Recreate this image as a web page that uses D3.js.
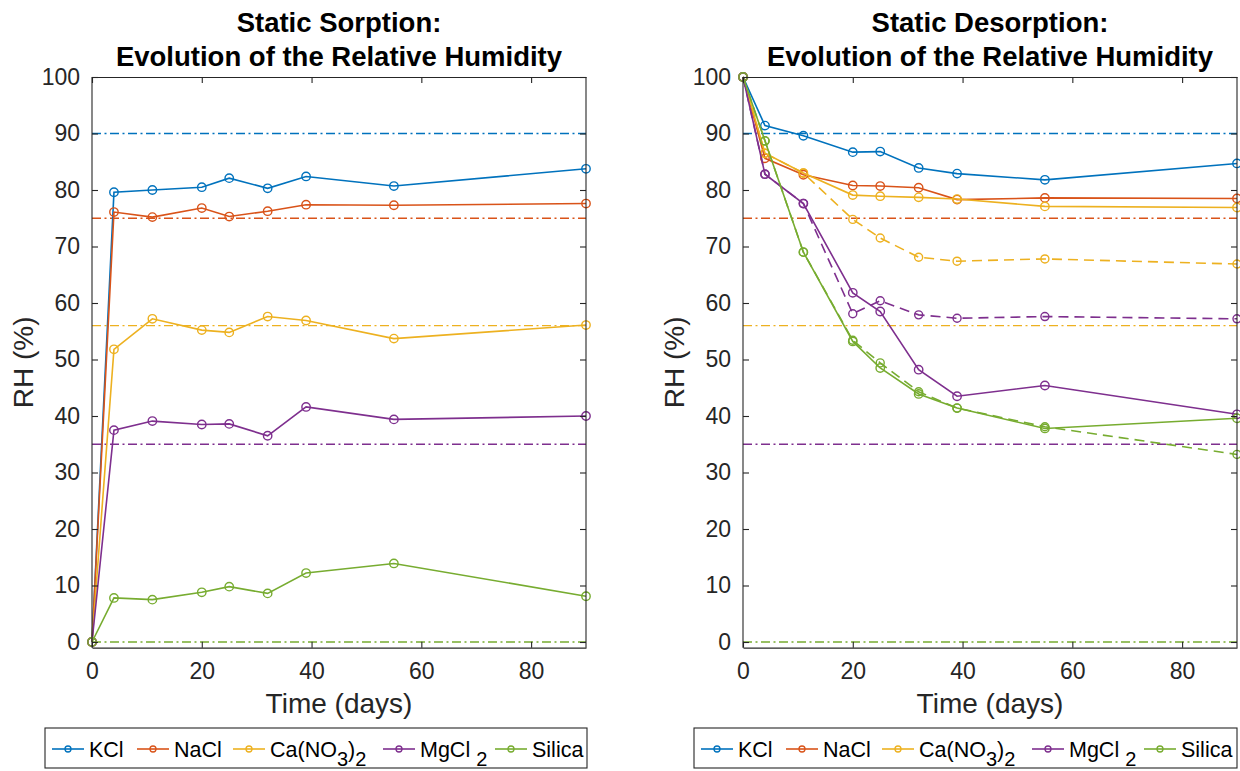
<!DOCTYPE html>
<html><head><meta charset="utf-8">
<script src="https://cdn.jsdelivr.net/npm/d3@7"></script>
<style>body{margin:0;background:#fff}svg{display:block;font-family:"Liberation Sans",Arial,Helvetica,sans-serif}</style>
</head><body>
<svg id="c" width="1240" height="771"></svg>
<script>
const times = [0, 4, 11, 20, 25, 32, 39, 55, 90];
const seriesNames = ["KCl", "NaCl", "Ca(NO3)2", "MgCl2", "Silica"];
const colors = ["#0072BD", "#D95319", "#EDB120", "#7E2F8E", "#77AC30"];
const targetRH = [90, 75, 56, 35, 0];

// Static sorption
const kclSorp  = [0, 79.6, 80.0, 80.5, 82.1, 80.3, 82.4, 80.7, 83.75];
const naclSorp = [0, 76.1, 75.2, 76.8, 75.3, 76.25, 77.4, 77.3, 77.6];
const caSorp   = [0, 51.8, 57.2, 55.2, 54.8, 57.6, 56.9, 53.7, 56.1];
const mgSorp   = [0, 37.5, 39.1, 38.5, 38.6, 36.5, 41.6, 39.4, 40.0];
const siSorp   = [0, 7.8, 7.5, 8.8, 9.8, 8.6, 12.2, 13.9, 8.1];

// Static desorption (solid lines)
const kclDes  = [100, 91.4, 89.6, 86.7, 86.8, 83.9, 82.9, 81.8, 84.7];
const naclDes = [100, 85.6, 82.7, 80.8, 80.7, 80.4, 78.3, 78.6, 78.5];
const caDes   = [100, 86.5, 83.0, 79.1, 78.9, 78.7, 78.4, 77.1, 76.9];
const mgDes   = [100, 82.8, 77.6, 61.8, 58.5, 48.2, 43.5, 45.4, 40.3];
const siDes   = [100, 88.7, 69.0, 53.2, 48.5, 43.9, 41.4, 37.8, 39.6];
// Static desorption (dashed lines)
const caDes2  = [100, 86.5, 83.0, 74.8, 71.5, 68.1, 67.4, 67.8, 66.9];
const mgDes2  = [100, 82.8, 77.6, 58.1, 60.4, 57.9, 57.3, 57.6, 57.2];
const siDes2  = [100, 88.7, 69.0, 53.4, 49.4, 44.3, 41.4, 38.1, 33.2];

const xTicks = [0, 20, 40, 60, 80];
const yTicks = [0, 10, 20, 30, 40, 50, 60, 70, 80, 90, 100];

const svg = d3.select("#c");
const axisColor = "#262626";
const legendOffsets = [7, 92, 188, 338, 450];

function panel(opts) {
  const {x0, x1, yTop, y0px, title, solid, dashed, legendX0, legendX1} = opts;
  const x = d3.scaleLinear().domain([0, 90]).range([x0, x1]);
  const y = d3.scaleLinear().domain([0, 100]).range([y0px, yTop]);
  const yBottom = y(-1);
  const g = svg.append("g");

  targetRH.forEach((v, i) => {
    g.append("line").attr("x1", x(0)).attr("x2", x(90)).attr("y1", y(v)).attr("y2", y(v))
      .attr("stroke", colors[i]).attr("stroke-width", 1.4).attr("stroke-dasharray", "9,3.5,2,3.5");
  });

  const line = d3.line().x((d, i) => x(times[i])).y(d => y(d));
  function drawSeries(vals, color, dash, r) {
    g.append("path").datum(vals).attr("d", line).attr("fill", "none")
      .attr("stroke", color).attr("stroke-width", 1.6)
      .attr("stroke-dasharray", dash ? "10,6" : null);
    g.selectAll(null).data(vals).enter().append("circle")
      .attr("cx", (d, i) => x(times[i])).attr("cy", d => y(d)).attr("r", r)
      .attr("fill", "none").attr("stroke", color).attr("stroke-width", 1.4);
  }
  dashed.forEach(s => drawSeries(s.v, colors[s.c], true, 4));
  solid.forEach((s, i) => drawSeries(s, colors[i], false, 4.2));

  const ax = svg.append("g");
  const bottom = d3.axisBottom(x).tickValues(xTicks).tickSizeInner(-6).tickSizeOuter(0).tickPadding(15);
  const top = d3.axisTop(x).tickValues(xTicks).tickSizeInner(-6).tickSizeOuter(0).tickFormat("");
  const left = d3.axisLeft(y).tickValues(yTicks).tickSizeInner(-6).tickSizeOuter(0).tickPadding(12);
  const right = d3.axisRight(y).tickValues(yTicks).tickSizeInner(-6).tickSizeOuter(0).tickFormat("");
  [[bottom, `translate(0,${yBottom})`], [top, `translate(0,${yTop})`], [left, `translate(${x0},0)`], [right, `translate(${x1},0)`]]
    .forEach(([a, t], k) => {
      const gg = ax.append("g").attr("transform", t).call(a);
      gg.select(".domain").attr("stroke", axisColor).attr("stroke-width", 1.1);
      if (k >= 2) gg.select(".domain").attr("d", `M0,${yTop}V${yBottom}`);
      gg.selectAll(".tick line").attr("stroke", axisColor).attr("stroke-width", 1.1);
      gg.selectAll(".tick text").attr("fill", axisColor).attr("font-size", 23)
        .attr("font-family", "'Liberation Sans', Arial, sans-serif");
    });

  svg.append("text").attr("x", (x0 + x1) / 2).attr("y", 713).attr("text-anchor", "middle")
    .attr("font-size", 28).attr("fill", axisColor).text("Time (days)");
  svg.append("text").attr("transform", `translate(${x0 - 59},${(yTop + yBottom) / 2}) rotate(-90)`)
    .attr("text-anchor", "middle").attr("font-size", 28).attr("fill", axisColor).text("RH (%)");
  const tg = svg.append("text").attr("text-anchor", "middle").attr("font-size", 27.5)
    .attr("font-weight", "bold").attr("fill", "#000");
  tg.append("tspan").attr("x", (x0 + x1) / 2).attr("y", 32).text(title[0]);
  tg.append("tspan").attr("x", (x0 + x1) / 2).attr("y", 66).text(title[1]);

  const lg = svg.append("g");
  lg.append("rect").attr("x", legendX0).attr("y", 728).attr("width", legendX1 - legendX0).attr("height", 40)
    .attr("fill", "#fff").attr("stroke", axisColor).attr("stroke-width", 1.1);
  const ly = 749;
  seriesNames.forEach((n, i) => {
    const cx = legendX0 + legendOffsets[i];
    lg.append("line").attr("x1", cx).attr("x2", cx + 32).attr("y1", ly).attr("y2", ly)
      .attr("stroke", colors[i]).attr("stroke-width", 1.6);
    lg.append("circle").attr("cx", cx + 16).attr("cy", ly).attr("r", 3)
      .attr("fill", "none").attr("stroke", colors[i]).attr("stroke-width", 1.3);
    const t = lg.append("text").attr("x", cx + 37).attr("y", ly + 8).attr("font-size", 21.5).attr("fill", "#000");
    if (n === "Ca(NO3)2") {
      t.append("tspan").text("Ca(NO");
      t.append("tspan").attr("dy", 9).attr("font-size", 20).text("3");
      t.append("tspan").attr("dy", -9).text(")");
      t.append("tspan").attr("dy", 9).attr("font-size", 20).text("2");
    } else if (n === "MgCl2") {
      t.append("tspan").text("MgCl");
      t.append("tspan").attr("dx", 6).attr("dy", 9).attr("font-size", 20).text("2");
    } else t.text(n);
  });
}

panel({x0: 92, x1: 586, yTop: 77, y0px: 642,
  title: ["Static Sorption:", "Evolution of the Relative Humidity"],
  solid: [kclSorp, naclSorp, caSorp, mgSorp, siSorp], dashed: [],
  legendX0: 45, legendX1: 587});
panel({x0: 743, x1: 1237, yTop: 77, y0px: 642,
  title: ["Static Desorption:", "Evolution of the Relative Humidity"],
  solid: [kclDes, naclDes, caDes, mgDes, siDes],
  dashed: [{v: caDes2, c: 2}, {v: mgDes2, c: 3}, {v: siDes2, c: 4}],
  legendX0: 694, legendX1: 1237});
</script>
</body></html>
